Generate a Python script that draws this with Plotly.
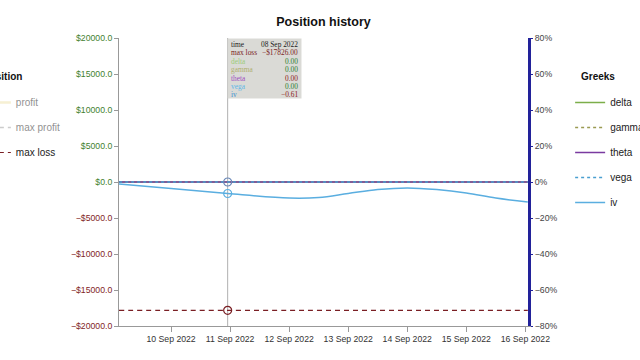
import plotly.graph_objects as go

# ---------------- data ----------------
times = ["2022-09-09 02:50", "2022-09-10 00:00", "2022-09-10 23:00", "2022-09-12 00:00",
         "2022-09-12 12:00", "2022-09-13 00:00", "2022-09-13 12:00", "2022-09-14 00:00",
         "2022-09-14 12:00", "2022-09-15 00:00", "2022-09-15 12:00", "2022-09-16 01:00"]
iv = [-0.011, -0.036, -0.064, -0.089, -0.086, -0.064, -0.042, -0.033, -0.042, -0.061, -0.089, -0.111]
delta = [0.0] * len(times)
gamma = [0.0] * len(times)
theta = [0.0] * len(times)
vega = [0.0] * len(times)
profit = [0.0] * len(times)
max_profit = [0.0] * len(times)
max_loss = [-17826.0] * len(times)

hover_idx = 2
x_range = ["2022-09-09 02:50", "2022-09-16 01:05"]

left_tickvals = [20000, 15000, 10000, 5000, 0, -5000, -10000, -15000, -20000]
left_ticktext = ["$20000.0", "$15000.0", "$10000.0", "$5000.0", "$0.0",
                 "\u2212$5000.0", "\u2212$10000.0", "\u2212$15000.0", "\u2212$20000.0"]
right_tickvals = [0.8, 0.6, 0.4, 0.2, 0.0, -0.2, -0.4, -0.6, -0.8]
right_ticktext = ["80%", "60%", "40%", "20%", "0%", "\u221220%", "\u221240%", "\u221260%", "\u221280%"]

tip_labels = ["time", "max loss", "delta", "gamma", "theta", "vega", "iv"]
tip_values = ["08 Sep 2022", "\u2212$17826.00", "0.00", "0.00", "0.00", "0.00", "\u22120.61"]

# ---------------- styles ----------------
C_POS = "#3f7f2f"
C_NEG = "#7f2525"
C_PROFIT = "#efe2a8"
C_MAXPROFIT = "#9a9a9a"
C_MAXLOSS = "#7a1f24"
C_DELTA = "#7cae4a"
C_GAMMA = "#9a9a52"
C_THETA = "#7a3aa0"
C_VEGA = "#4a9fd0"
C_IV = "#5aaee0"
tip_label_colors = ["#222", C_MAXLOSS, "#9ccc7a", "#b0b070", "#a050c0", "#60b8e8", "#3a90d0"]
tip_value_colors = ["#222", C_MAXLOSS, "#2e7d32", "#2e7d32", "#8b1a1a", "#2e7d32", "#8b1a1a"]

fig = go.Figure()

def add(name, y, color, dash, yaxis, legend, visible=True, width=1.5):
    fig.add_trace(go.Scatter(
        x=times, y=y, name=name, mode="lines", yaxis=yaxis, legend=legend,
        legendgroup=name, visible=visible, line=dict(color=color, dash=dash, width=width,
                                                       shape="spline"),
        hoverinfo="skip"))

add("profit", profit, C_PROFIT, "solid", "y", "legend", visible="legendonly", width=2.5)
add("max profit", max_profit, C_MAXPROFIT, "5px,4px", "y", "legend", visible="legendonly")
add("max loss", max_loss, C_MAXLOSS, "5px,4px", "y", "legend", width=1.2)
add("delta", delta, C_DELTA, "solid", "y2", "legend2")
add("gamma", gamma, C_GAMMA, "dot", "y2", "legend2")
add("theta", theta, C_THETA, "solid", "y2", "legend2", width=1.3)
add("vega", vega, C_VEGA, "dot", "y2", "legend2", width=1.3)
add("iv", iv, C_IV, "solid", "y2", "legend2", width=1.5)

# crosshair markers
hx = times[hover_idx]
for yv, ax, col in [(vega[hover_idx], "y2", "#6a88b8"), (iv[hover_idx], "y2", C_IV),
                    (max_loss[hover_idx], "y", C_MAXLOSS)]:
    fig.add_trace(go.Scatter(x=[hx], y=[yv], yaxis=ax, mode="markers", showlegend=False,
                             hoverinfo="skip",
                             marker=dict(symbol="circle-open", size=8, color=col,
                                         line=dict(width=1.2, color=col))))

fig.add_shape(type="line", x0=hx, x1=hx, yref="paper", y0=0, y1=1,
              line=dict(color="#b0b0b0", width=1), layer="below")

# tooltip
fig.add_annotation(x=hx, xref="x", y=1, yref="paper", xanchor="left", yanchor="top",
                   xshift=-1, text=" ", showarrow=False, width=73, height=59,
                   bgcolor="rgba(214,214,210,0.9)", borderpad=0)
for i, (lab, val, lc, vc) in enumerate(zip(tip_labels, tip_values, tip_label_colors, tip_value_colors)):
    ys = 0 - i * 8.4
    fig.add_annotation(x=hx, xref="x", y=1, yref="paper", xanchor="left", yanchor="top",
                       xshift=1, yshift=ys, text=lab, showarrow=False,
                       font=dict(family="Liberation Serif", size=7.4, color=lc))
    fig.add_annotation(x=hx, xref="x", y=1, yref="paper", xanchor="right", yanchor="top",
                       xshift=72, yshift=ys, text=val, showarrow=False,
                       font=dict(family="Liberation Serif", size=7.4, color=vc))

# legend titles (as positioned text)
fig.add_annotation(x=-0.3374, xref="paper", y=0.8646, yref="paper", xanchor="left",
                   yanchor="middle", text="<b>Position</b>", showarrow=False,
                   font=dict(size=10, color="#111"))
fig.add_annotation(x=1.1247, xref="paper", y=0.8646, yref="paper", xanchor="left",
                   yanchor="middle", text="<b>Greeks</b>", showarrow=False,
                   font=dict(size=10, color="#111"))

left_text = [f"<span style='color:{C_POS if v >= 0 else C_NEG}'>{t}</span>"
             for v, t in zip(left_tickvals, left_ticktext)]

fig.update_layout(
    width=640, height=360,
    margin=dict(l=119, r=112, t=38, b=34, autoexpand=False),
    paper_bgcolor="white", plot_bgcolor="white",
    font=dict(family="Liberation Sans, Arial", size=9, color="#333"),
    title=dict(text="<b>Position history</b>", x=0.5, xref="paper", xanchor="center",
               y=1 - 22 / 360, yanchor="middle", font=dict(size=12.5, color="#111")),
    xaxis=dict(type="date", range=x_range, showgrid=False, zeroline=False,
               showline=True, linecolor="#999", linewidth=1, ticks="outside",
               ticklen=5, tickcolor="#999", tickformat="%d %b %Y", dtick=86400000,
               tickangle=0, tickfont=dict(size=8.7, color="#333")),
    yaxis=dict(range=[-20000, 20000], tickvals=left_tickvals, ticktext=left_text,
               showgrid=False, zeroline=False, showline=True, linecolor="#999",
               linewidth=1, ticks="outside", ticklen=4, tickcolor="#999",
               tickfont=dict(size=8.7)),
    yaxis2=dict(range=[-0.8, 0.8], overlaying="y", side="right", tickvals=right_tickvals,
                ticktext=right_ticktext, showgrid=False, zeroline=False, showline=True,
                linecolor="#22229a", linewidth=3, ticks="outside", ticklen=2,
                tickcolor="#22229a", tickfont=dict(size=8.7, color="#444")),
    legend=dict(x=-0.35, xanchor="left", y=0.8264, yanchor="top", traceorder="grouped",
                tracegroupgap=6, bgcolor="rgba(0,0,0,0)",
                font=dict(size=10, color="#222")),
    legend2=dict(x=1.103, xanchor="left", y=0.8264, yanchor="top", traceorder="grouped",
                 tracegroupgap=6, bgcolor="rgba(0,0,0,0)",
                 font=dict(size=10, color="#222")),
    showlegend=True,
)

fig.write_html("out.html", config={"displayModeBar": False},
               post_script="document.body.style.margin='0px';")
